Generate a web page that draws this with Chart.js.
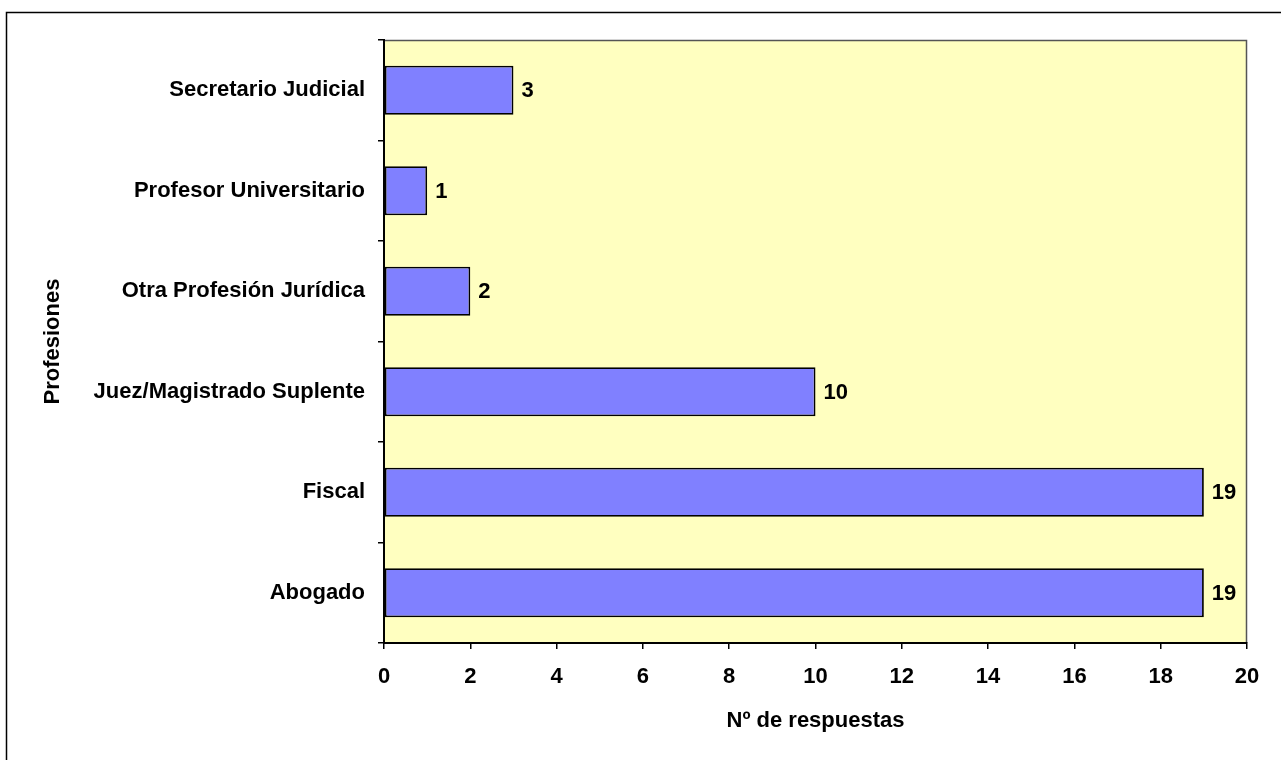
<!DOCTYPE html>
<html>
<head>
<meta charset="utf-8">
<script src="https://cdn.jsdelivr.net/npm/chart.js@4/dist/chart.umd.min.js"></script>
<style>
  html, body { margin: 0; padding: 0; background: #ffffff; }
  #wrap { width: 1281px; height: 760px; position: relative; }
</style>
</head>
<body>
<div id="wrap"><canvas id="chart"></canvas></div>
<script>
// data (top to bottom in the reference)
const professions = [
  'Secretario Judicial',
  'Profesor Universitario',
  'Otra Profesión Jurídica',
  'Juez/Magistrado Suplente',
  'Fiscal',
  'Abogado'
];
const answers = [3, 1, 2, 10, 19, 19];
const xTicks = [0, 2, 4, 6, 8, 10, 12, 14, 16, 18, 20];

const FONT = "'Liberation Sans', Arial, sans-serif";

// plot background, plot border and outer frame
const frame = {
  id: 'frame',
  beforeDraw(chart) {
    const { ctx, chartArea: a } = chart;
    ctx.save();
    ctx.fillStyle = '#FFFFC0';
    ctx.fillRect(a.left, a.top, a.right - a.left, a.bottom - a.top);
    ctx.strokeStyle = '#555555';
    ctx.lineWidth = 1.5;
    ctx.beginPath();
    ctx.moveTo(a.left, a.top + 0.5);
    ctx.lineTo(a.right - 0.5, a.top + 0.5);
    ctx.lineTo(a.right - 0.5, a.bottom);
    ctx.stroke();
    // outer frame
    ctx.strokeStyle = '#000000';
    ctx.lineWidth = 1.5;
    ctx.beginPath();
    ctx.moveTo(6.5, 760);
    ctx.lineTo(6.5, 12.5);
    ctx.lineTo(1281, 12.5);
    ctx.stroke();
    ctx.restore();
  }
};

// value labels at the end of each bar
const valueLabels = {
  id: 'valueLabels',
  afterDatasetsDraw(chart) {
    const { ctx } = chart;
    const meta = chart.getDatasetMeta(0);
    ctx.save();
    ctx.font = 'bold 22px ' + FONT;
    ctx.fillStyle = '#000000';
    ctx.textAlign = 'left';
    ctx.textBaseline = 'middle';
    meta.data.forEach((bar, i) => {
      ctx.fillText(String(answers[i]), bar.x + 8, bar.y + 1);
    });
    ctx.restore();
  }
};

new Chart(document.getElementById('chart'), {
  type: 'bar',
  data: {
    labels: professions,
    datasets: [{
      data: answers,
      backgroundColor: '#8080FF',
      borderColor: '#000000',
      borderWidth: 1.8,
      borderSkipped: false,
      categoryPercentage: 0.49,
      barPercentage: 1
    }]
  },
  options: {
    indexAxis: 'y',
    responsive: true,
    maintainAspectRatio: false,
    animation: false,
    layout: { padding: { left: 0, top: 40, right: 34, bottom: 0 } },
    plugins: {
      legend: { display: false },
      tooltip: { enabled: false }
    },
    scales: {
      x: {
        min: 0,
        max: 20,
        afterBuildTicks(scale) {
          scale.ticks = xTicks.map(v => ({ value: v }));
        },
        afterFit(scale) { scale.height = 117; },
        grid: { drawOnChartArea: false, tickLength: 6, color: '#000000', lineWidth: 1.5 },
        border: { color: '#000000', width: 2 },
        ticks: {
          color: '#000000',
          padding: 15,
          font: { family: FONT, size: 22, weight: 'bold' }
        },
        title: {
          display: true,
          text: 'Nº de respuestas',
          color: '#000000',
          padding: { top: 4, bottom: 26 },
          font: { family: FONT, size: 22, weight: 'bold' }
        }
      },
      y: {
        afterFit(scale) { scale.width = 384; },
        grid: { drawOnChartArea: false, tickLength: 6, color: '#000000', lineWidth: 1.5, offset: true },
        border: { color: '#000000', width: 2 },
        ticks: {
          color: '#000000',
          padding: 13,
          font: { family: FONT, size: 22, weight: 'bold' }
        },
        title: {
          display: true,
          text: 'Profesiones',
          color: '#000000',
          padding: { top: 40, bottom: 0 },
          font: { family: FONT, size: 22, weight: 'bold' }
        }
      }
    }
  },
  plugins: [frame, valueLabels]
});
</script>
</body>
</html>
